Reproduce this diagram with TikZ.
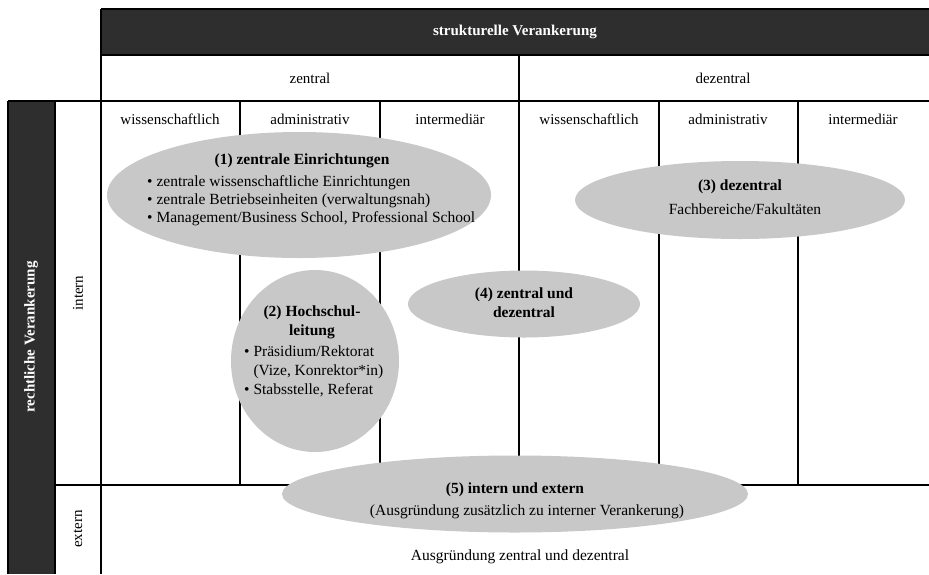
\documentclass[tikz,border=0pt]{standalone}
\usepackage{fontspec}
\setmainfont{Liberation Serif}
\usetikzlibrary{shapes.geometric}
\definecolor{darkfill}{HTML}{2E2E2E}
\definecolor{blobgray}{HTML}{C8C8C8}
\begin{document}
\begin{tikzpicture}[x=1pt,y=-1pt,
  grid/.style={line width=1.4pt,black},
  blob/.style={ellipse,fill=blobgray,draw=none,inner sep=0pt},
  lbl/.style={font=\fontsize{15}{18}\selectfont,inner sep=0pt,align=center},
  ttl/.style={font=\fontsize{15}{18}\selectfont\bfseries,inner sep=0pt,align=center},
  etx/.style={font=\fontsize{15.5}{18.5}\selectfont,inner sep=0pt,align=center},
  ebf/.style={font=\fontsize{15.5}{19}\selectfont\bfseries,inner sep=0pt,align=center},
  lst/.style={font=\fontsize{15.5}{18}\selectfont,inner sep=0pt,align=left,anchor=west},
]
\useasboundingbox (0,0) rectangle (929,574);
\fill[white] (0,0) rectangle (929,574);
% dark bands
\fill[darkfill] (101,9) rectangle (929,55);
\fill[darkfill] (8,101) rectangle (55,574);
% grid
\draw[grid] (101,9) -- (929,9);
\draw[grid] (101,55) -- (929,55);
\draw[grid] (101,9) -- (101,574);
\draw[grid] (8,101) -- (929,101);
\draw[grid] (8,101) -- (8,574);
\draw[grid] (55,101) -- (55,574);
\draw[grid] (55,485) -- (929,485);
\draw[grid] (519,55) -- (519,485);
\foreach \x in {240,380,659,798} \draw[grid] (\x,101) -- (\x,485);
% headers
\node[ttl,text=white] (hdr) at (515,32) {strukturelle Verankerung};
\node[lbl] (hz) at (310,78) {zentral};
\node[lbl] (hd) at (723,78) {dezentral};
\node[lbl] (c1) at (170,119) {wissenschaftlich};
\node[lbl] (c2) at (310,119) {administrativ};
\node[lbl] (c3) at (450,119) {intermediär};
\node[lbl] (c4) at (589,119) {wissenschaftlich};
\node[lbl] (c5) at (728,119) {administrativ};
\node[lbl] (c6) at (863,119) {intermediär};
\node[ttl,text=white,rotate=90] (rv) at (31,337) {rechtliche Verankerung};
\node[lbl,rotate=90] (ri) at (78,293) {intern};
\node[lbl,rotate=90] (re) at (78,529) {extern};
% ellipses
\node[blob, minimum width=384pt, minimum height=126pt] (e1) at (299,195) {};
\node[blob, minimum width=168pt, minimum height=182pt] (e2) at (315,361) {};
\node[blob, minimum width=330pt, minimum height=78pt] (e3) at (740,200) {};
\node[blob, minimum width=232pt, minimum height=67pt] (e4) at (524,304) {};
\node[blob, minimum width=466pt, minimum height=77pt] (e5) at (515,494) {};
% ellipse texts
\node[ebf] (t1) at (302,161) {(1) zentrale Einrichtungen};
\node[lst] (l1) at (147,201) {\textbullet\ zentrale wissenschaftliche Einrichtungen\\\textbullet\ zentrale Betriebseinheiten (verwaltungsnah)\\\textbullet\ Management/Business School, Professional School};
\node[ebf] (t2) at (312,322) {(2) Hochschul-\\leitung};
\node[lst,font=\fontsize{15.5}{19}\selectfont] (l2) at (244,371) {\textbullet\ Präsidium/Rektorat\\\hphantom{\textbullet\ }(Vize, Konrektor*in)\\\textbullet\ Stabsstelle, Referat};
\node[ebf] (t3) at (740,187) {(3) dezentral};
\node[etx] (l3) at (745,209) {Fachbereiche/Fakultäten};
\node[ebf] (t4) at (524,303) {(4) zentral und\\dezentral};
\node[ebf] (t5) at (515,490) {(5) intern und extern};
\node[etx] (l5) at (527,512) {(Ausgründung zusätzlich zu interner Verankerung)};
\node[etx] (ax) at (520,557) {Ausgründung zentral und dezentral};
\end{tikzpicture}
\end{document}
